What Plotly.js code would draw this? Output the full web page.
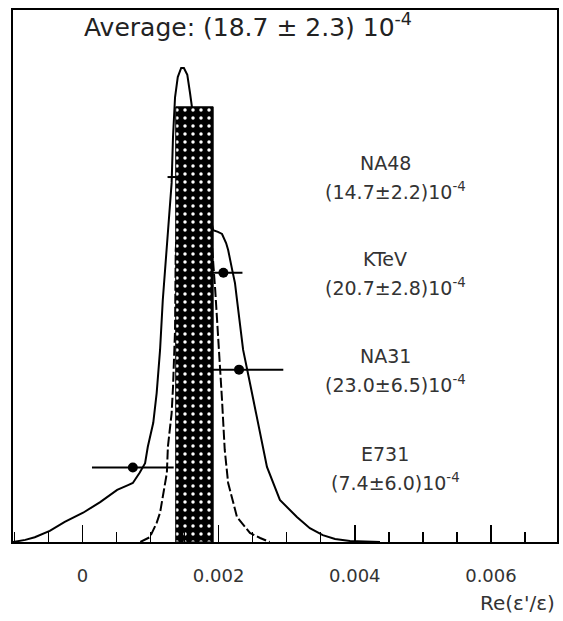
<!DOCTYPE html>
<html><head><meta charset="utf-8">
<script src="https://cdn.plot.ly/plotly-3.0.1.min.js"></script>
<style>body{margin:0;background:#fff}</style>
</head><body><div id="chart" style="width:563px;height:621px"></div>
<script>
// Experiments (values and errors in units of 1e-4)
const experiments = ['NA48', 'KTeV', 'NA31', 'E731'];
const values = [14.7, 20.7, 23.0, 7.4];
const errors = [2.2, 2.8, 6.5, 6.0];
const rowLevels = [68.6, 50.6, 32.4, 14.0];

// Ideogram (solid curve)
const idealX = [-0.00102,-0.00084,-0.00070,-0.00048,-0.00026,0.00001,0.00026,0.00051,0.00067,0.00074,0.00084,0.00092,0.00096,0.00104,0.00109,0.00114,0.00118,0.00124,0.001255,0.00130,0.00131,0.00133,0.00136,0.00140,0.00145,0.00149,0.00154,0.00158,0.00168,0.00180,0.00192,0.00199,0.00205,0.00211,0.00214,0.00220,0.00224,0.00227,0.00236,0.00246,0.00256,0.00271,0.00290,0.00315,0.00334,0.00353,0.00371,0.00393,0.00437];
const idealY = [0,0.4,0.9,2.1,3.8,5.5,7.5,9.8,10.7,11.1,13.0,14.8,17.9,22.4,28.0,36.1,45.5,54.9,58.1,64.3,67.5,76.1,83.6,87.4,89.1,89.1,87.8,84.4,75,66,58.6,58.3,57.9,56.2,54.9,51.1,48.7,45.5,36.1,29.9,23.5,14.1,7.9,4.7,2.6,1.3,0.56,0.19,0];

// Dashed curve
const gaussX = [0.00085,0.00099,0.00109,0.00114,0.00118,0.00124,0.001255,0.00131,0.00133,0.00136,0.00137,0.00150,0.00165,0.00180,0.00195,0.00199,0.00205,0.00209,0.00214,0.00227,0.00246,0.00261,0.00275];
const gaussY = [0,0.9,3.6,5.5,8.5,13.0,17.9,24.2,29.1,39.8,54.9,79.3,81.2,73.7,47.4,39.8,26.7,17.3,11.1,4.7,1.7,0.75,0];

// Average band
const bandLow = 0.00137, bandHigh = 0.00192, bandTop = 81.8;
const avgText = 'Average: (18.7 ± 2.3) 10<sup>-4</sup>';
const labelX = 0.00445;

const tickVals = [0, 0.002, 0.004, 0.006];
const tickText = ['0', '0.002', '0.004', '0.006'];

const FONT = 'DejaVu Sans, Verdana, sans-serif';

const traces = [
  {x: idealX, y: idealY, type: 'scatter', mode: 'lines', line: {color: 'black', width: 2}, hoverinfo: 'skip'},
  {x: gaussX, y: gaussY, type: 'scatter', mode: 'lines', line: {color: 'black', width: 2, dash: '10px,3px'}, hoverinfo: 'skip'},
  {x: values.map(v => v * 1e-4), y: rowLevels, type: 'scatter', mode: 'markers',
   marker: {color: 'black', size: 10},
   error_x: {type: 'data', array: errors.map(e => e * 1e-4), color: 'black', thickness: 2, width: 0}},
  {x: [bandLow, bandLow, bandHigh, bandHigh, bandLow], y: [0, bandTop, bandTop, 0, 0],
   type: 'scatter', mode: 'lines', fill: 'toself', line: {color: 'black', width: 1},
   fillcolor: 'black',
   fillpattern: {shape: '.', bgcolor: 'black', fgcolor: 'white', size: 8, solidity: 0.15}}
];

const annotations = [];
experiments.forEach((name, i) => {
  annotations.push({text: name, xref: 'x', yref: 'y', x: labelX, y: rowLevels[i], yshift: 14,
    xanchor: 'center', yanchor: 'middle', showarrow: false, font: {family: FONT, size: 19, color: '#333'}});
  annotations.push({text: '(' + values[i].toFixed(1) + '±' + errors[i].toFixed(1) + ')10<sup>-4</sup>',
    xref: 'x', yref: 'y', x: labelX, xshift: 10, y: rowLevels[i], yshift: -14,
    xanchor: 'center', yanchor: 'middle', showarrow: false, font: {family: FONT, size: 19, color: '#333'}});
});
annotations.push({text: "Re(ε'/ε)", xref: 'paper', yref: 'paper', x: 1.0, y: -0.115, xanchor: 'right', yanchor: 'middle',
  showarrow: false, font: {family: FONT, size: 20, color: '#333'}});

const layout = {
  width: 563, height: 621,
  margin: {l: 13, r: 6, t: 10, b: 79},
  paper_bgcolor: 'white', plot_bgcolor: 'white',
  showlegend: false,
  title: {text: avgText, x: 0.4405, y: 0.9565, xanchor: 'center', yanchor: 'middle',
    font: {family: FONT, size: 25, color: '#222'}},
  xaxis: {range: [-0.00102, 0.00697], showline: true, linecolor: 'black', linewidth: 2, mirror: true,
    showgrid: false, zeroline: false, ticks: 'inside', ticklen: 17, tickwidth: 1.5, tickcolor: 'black',
    tickmode: 'array', tickvals: tickVals, ticktext: tickText, ticklabelstandoff: 16,
    tickfont: {family: FONT, size: 18, color: '#333'},
    minor: {tickmode: 'linear', tick0: 0, dtick: 0.0005, ticks: 'inside', ticklen: 10, tickwidth: 1.5, tickcolor: 'black', showgrid: false}},
  yaxis: {range: [0, 100], showline: true, linecolor: 'black', linewidth: 2, mirror: true,
    showgrid: false, zeroline: false, ticks: '', showticklabels: false},
  annotations: annotations
};

Plotly.newPlot('chart', traces, layout, {displayModeBar: false, staticPlot: true});
</script></body></html>
